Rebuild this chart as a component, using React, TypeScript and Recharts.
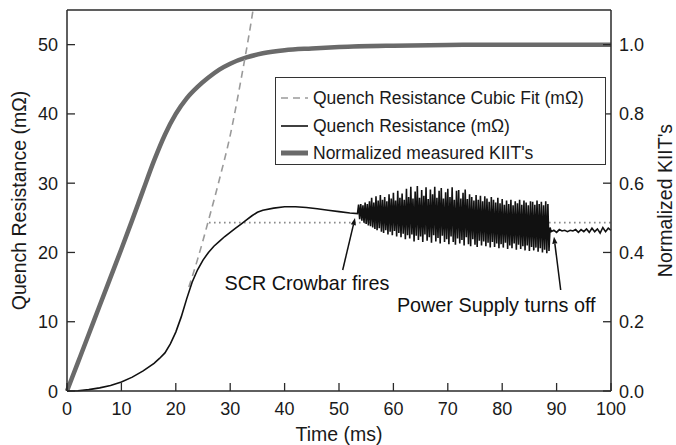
import React from 'react';
import { LineChart, Line, XAxis, YAxis, ReferenceDot, ReferenceLine, Legend } from 'recharts';

const FONT = '"Liberation Sans", Arial, Helvetica, sans-serif';
const AXIS = '#2a2a2a';

// ---- Data ----
// Normalized measured KIIT's (right axis)
const kiitTime = [0, 2, 4, 6, 8, 10, 12, 14, 16, 18, 20, 22, 24, 26, 28, 30, 33, 36, 40, 45, 50, 60, 70, 80, 90, 100];
const kiitValue = [0, 0.082, 0.164, 0.246, 0.328, 0.41, 0.494, 0.58, 0.665, 0.74, 0.8, 0.845, 0.878, 0.905, 0.928, 0.945, 0.963, 0.975, 0.984, 0.989, 0.993, 0.997, 0.999, 1.0, 1.0, 1.0];

// Quench Resistance Cubic Fit (mΩ)
const cubicTime = [22.4, 24, 26, 28, 30, 32, 34, 34.2];
const cubicValue = [15.0, 19.0, 24.6, 30.5, 36.9, 45.0, 54.0, 55.0];

// Plateau (dotted horizontal)
const plateauTime = [26.1, 100];
const plateauValue = [24.3, 24.3];

// Quench Resistance (mΩ) - smooth part
const qTime = [0, 2, 4, 6, 8, 10, 12, 14, 16, 17, 18, 19, 20, 21, 22, 23, 24, 25, 26, 27, 28, 29, 30, 31, 32, 33, 34, 35, 36, 38, 40, 42, 44, 46, 48, 50, 52, 53.4];
const qValue = [0, 0.03, 0.2, 0.45, 0.8, 1.3, 2.0, 2.9, 4.0, 4.7, 5.5, 6.8, 8.5, 10.7, 13.3, 15.7, 17.5, 18.9, 20.0, 20.9, 21.6, 22.3, 22.9, 23.5, 24.1, 24.7, 25.3, 25.8, 26.1, 26.4, 26.6, 26.6, 26.5, 26.3, 26.1, 25.9, 25.7, 25.6];

// Oscillating part, sampled every 0.2 ms starting at 53.6 ms
const NOISE_T0 = 53.6;
const NOISE_DT = 0.2;
const noiseValue = [
  26.9, 24.8, 27.0, 24.6, 26.8, 24.3, 27.2, 24.1, 27.0, 23.9,
  27.4, 23.8, 27.9, 23.6, 27.2, 23.4, 28.1, 23.2, 27.5, 23.5,
  28.3, 23.0, 27.6, 22.8, 28.0, 23.2, 27.4, 22.6, 28.4, 23.0,
  27.8, 22.5, 28.6, 23.1, 27.5, 22.3, 28.9, 22.8, 27.9, 22.2,
  28.5, 22.7, 27.6, 21.9, 29.2, 22.5, 28.0, 22.0, 29.5, 22.6,
  27.8, 21.6, 28.8, 22.4, 29.6, 21.8, 27.9, 22.3, 29.0, 21.5,
  28.2, 22.6, 29.4, 21.7, 27.7, 22.2, 29.1, 21.4, 28.4, 22.5,
  29.5, 21.6, 27.9, 22.1, 28.9, 21.3, 29.3, 22.4, 27.8, 21.5,
  28.7, 21.9, 29.2, 21.2, 28.0, 22.3, 29.4, 21.5, 27.6, 21.1,
  28.9, 22.0, 29.0, 21.3, 27.8, 21.8, 28.6, 21.0, 29.1, 22.2,
  27.7, 21.2, 28.4, 20.9, 28.0, 21.9, 27.5, 21.1, 28.3, 20.8,
  27.6, 21.7, 28.2, 21.0, 27.4, 21.6, 28.1, 20.9, 27.8, 21.4,
  27.3, 20.7, 28.0, 21.5, 27.6, 20.8, 27.2, 21.3, 27.9, 20.6,
  27.1, 21.2, 27.7, 20.7, 26.9, 21.4, 27.5, 20.5, 27.0, 21.0,
  27.6, 20.6, 26.8, 21.3, 27.4, 20.4, 27.1, 21.1, 27.6, 20.5,
  26.9, 20.9, 27.5, 20.3, 27.2, 21.0, 26.8, 20.2, 27.4, 20.8,
  27.3, 20.3, 26.9, 20.7, 27.5, 20.1, 27.0, 20.6, 27.3, 20.0,
  26.8, 20.4, 27.4, 19.9, 27.0, 20.2, 23.6,
];

// After the power supply turns off, sampled every 0.5 ms starting at 89 ms
const TAIL_T0 = 89.0;
const TAIL_DT = 0.5;
const tailValue = [23.0, 23.2, 22.9, 23.3, 23.1, 23.2, 23.0, 23.2, 23.1, 23.3, 22.9, 23.3, 23.0, 23.4, 22.9, 23.5, 23.0, 23.4, 22.8, 23.6, 23.0, 23.5, 23.2];

// Axis ticks
const xTicks = [0, 10, 20, 30, 40, 50, 60, 70, 80, 90, 100];
const leftTicks = [0, 10, 20, 30, 40, 50];
const rightTicks = [0, 0.2, 0.4, 0.6, 0.8, 1.0];

// Legend
const legendNames = ['Quench Resistance Cubic Fit (mΩ)', 'Quench Resistance (mΩ)', "Normalized measured KIIT's"];

// Annotations
const annotationText = ['SCR Crowbar fires', 'Power Supply turns off'];
const annotationPos = [
  { x: 44.1, y: 15.6 },
  { x: 78.9, y: 12.4 },
];
const arrowFrom = [
  { x: 50.68, y: 17.47 },
  { x: 90.75, y: 14.58 },
];
const arrowTo = [
  { x: 52.94, y: 24.97 },
  { x: 89.52, y: 22.28 },
];

// ---- Build series ----
const kiitData = kiitTime.map((t, i) => ({ t, v: kiitValue[i] }));
const cubicData = cubicTime.map((t, i) => ({ t, v: cubicValue[i] }));
const plateauData = plateauTime.map((t, i) => ({ t, v: plateauValue[i] }));
const quenchData = [
  ...qTime.map((t, i) => ({ t, v: qValue[i] })),
  ...noiseValue.map((v, i) => ({ t: +(NOISE_T0 + i * NOISE_DT).toFixed(2), v })),
  ...tailValue.map((v, i) => ({ t: +(TAIL_T0 + i * TAIL_DT).toFixed(2), v })),
];

// ---- Styles ----
const STYLE = {
  cubic: { stroke: '#9a9a9a', strokeWidth: 1.6, dash: '7 5' as string | undefined },
  quench: { stroke: '#111111', strokeWidth: 1.6, dash: undefined as string | undefined },
  kiit: { stroke: '#6a6a6a', strokeWidth: 4.5, dash: undefined as string | undefined },
};
const legendStyles = [STYLE.cubic, STYLE.quench, STYLE.kiit];

// ---- Ticks ----
const tickText = { fontFamily: FONT, fontSize: 18, fill: '#1a1a1a' };

const BottomTick = (p: any) => {
  const { x, y, payload } = p;
  return (
    <g>
      <line x1={x} y1={y} x2={x} y2={y - 8} stroke={AXIS} strokeWidth={1.3} />
      <text x={x} y={y + 24} textAnchor="middle" {...tickText}>{payload.value}</text>
    </g>
  );
};
const TopTick = (p: any) => {
  const { x, y } = p;
  return <line x1={x} y1={y} x2={x} y2={y + 8} stroke={AXIS} strokeWidth={1.3} />;
};
const LeftTick = (p: any) => {
  const { x, y, payload } = p;
  return (
    <g>
      <line x1={x} y1={y} x2={x + 8} y2={y} stroke={AXIS} strokeWidth={1.3} />
      <text x={x - 9} y={y + 6.5} textAnchor="end" {...tickText}>{payload.value}</text>
    </g>
  );
};
const RightTick = (p: any) => {
  const { x, y, payload } = p;
  return (
    <g>
      <line x1={x} y1={y} x2={x - 8} y2={y} stroke={AXIS} strokeWidth={1.3} />
      <text x={x + 8} y={y + 6.5} textAnchor="start" {...tickText}>{Number(payload.value).toFixed(1)}</text>
    </g>
  );
};

const titleStyle = { fontFamily: FONT, fontSize: 19.5, fill: '#1a1a1a' };

const XTitle = (p: any) => {
  const vb = p.viewBox;
  const x = vb.x + vb.width / 2;
  const y = vb.y + 50;
  return <text x={x} y={y} textAnchor="middle" {...titleStyle}>Time (ms)</text>;
};
const LeftTitle = (p: any) => {
  const vb = p.viewBox;
  const x = vb.x + vb.width - 41;
  const y = vb.y + vb.height / 2;
  return (
    <text x={x} y={y} textAnchor="middle" transform={`rotate(-90 ${x} ${y})`} {...titleStyle}>
      Quench Resistance (mΩ)
    </text>
  );
};
const RightTitle = (p: any) => {
  const vb = p.viewBox;
  const x = vb.x + 61;
  const y = vb.y + vb.height / 2;
  return (
    <text x={x} y={y} textAnchor="middle" transform={`rotate(-90 ${x} ${y})`} {...titleStyle}>
      Normalized KIIT's
    </text>
  );
};

const ArrowShape = (p: any) => {
  const { x1, y1, x2, y2 } = p;
  if ([x1, y1, x2, y2].some((v) => typeof v !== 'number' || isNaN(v))) return null;
  const ang = Math.atan2(y2 - y1, x2 - x1);
  const len = 7;
  const half = 2.6;
  const bx = x2 - len * Math.cos(ang);
  const by = y2 - len * Math.sin(ang);
  const px = -Math.sin(ang) * half;
  const py = Math.cos(ang) * half;
  return (
    <g>
      <line x1={x1} y1={y1} x2={bx} y2={by} stroke="#111" strokeWidth={1.5} />
      <polygon points={`${x2},${y2} ${bx + px},${by + py} ${bx - px},${by - py}`} fill="#111" />
    </g>
  );
};

const LegendBox = () => {
  const rowY = [20, 48, 75];
  return (
    <div style={{ width: 331, height: 88, border: '1.3px solid #333', boxSizing: 'border-box', background: '#fff' }}>
      <svg width={329} height={86} style={{ display: 'block' }}>
        {legendNames.map((name, i) => {
          const s = legendStyles[i];
          return (
            <g key={name}>
              <line x1={5} x2={32} y1={rowY[i]} y2={rowY[i]} stroke={s.stroke} strokeWidth={s.strokeWidth === 4.5 ? 5 : s.strokeWidth} strokeDasharray={s.dash} />
              <text x={37} y={rowY[i] + 6.3} fontFamily={FONT} fontSize={17.5} fill="#1a1a1a">{name}</text>
            </g>
          );
        })}
      </svg>
    </div>
  );
};

export default function App() {
  return (
    <div style={{ position: 'absolute', left: 0, top: 0, width: 676, height: 445, background: '#fff' }}>
      <LineChart width={676} height={445} margin={{ top: 9, right: 64, bottom: 53, left: 66 }}>
        <XAxis
          xAxisId="b"
          dataKey="t"
          type="number"
          domain={[0, 100]}
          ticks={xTicks}
          interval={0}
          height={1}
          tickSize={0}
          tickMargin={0}
          tickLine={false}
          tick={BottomTick}
          axisLine={{ stroke: AXIS, strokeWidth: 1.5 }}
          label={{ content: XTitle }}
        />
        <XAxis
          xAxisId="top"
          orientation="top"
          dataKey="t"
          type="number"
          domain={[0, 100]}
          ticks={xTicks}
          interval={0}
          height={1}
          tickSize={0}
          tickMargin={0}
          tickLine={false}
          tick={TopTick}
          axisLine={{ stroke: AXIS, strokeWidth: 1.5 }}
        />
        <YAxis
          yAxisId="left"
          type="number"
          domain={[0, 55]}
          ticks={leftTicks}
          interval={0}
          width={1}
          tickSize={0}
          tickMargin={0}
          tickLine={false}
          tick={LeftTick}
          axisLine={{ stroke: AXIS, strokeWidth: 1.5 }}
          label={{ content: LeftTitle }}
        />
        <YAxis
          yAxisId="right"
          orientation="right"
          type="number"
          domain={[0, 1.1]}
          ticks={rightTicks}
          interval={0}
          width={1}
          tickSize={0}
          tickMargin={0}
          tickLine={false}
          tick={RightTick}
          axisLine={{ stroke: AXIS, strokeWidth: 1.5 }}
          label={{ content: RightTitle }}
        />
        <Legend
          layout="vertical"
          align="center"
          verticalAlign="middle"
          content={LegendBox}
          wrapperStyle={{ position: 'absolute', left: 275, top: 77, width: 331, height: 88 }}
        />
        <Line
          xAxisId="b"
          yAxisId="right"
          data={kiitData}
          dataKey="v"
          name={legendNames[2]}
          stroke={STYLE.kiit.stroke}
          strokeWidth={STYLE.kiit.strokeWidth}
          dot={false}
          activeDot={false}
          isAnimationActive={false}
          type="monotone"
        />
        <Line
          xAxisId="b"
          yAxisId="left"
          data={plateauData}
          dataKey="v"
          legendType="none"
          stroke="#8a8a8a"
          strokeWidth={1.6}
          strokeDasharray="1.6 3.4"
          dot={false}
          activeDot={false}
          isAnimationActive={false}
        />
        <Line
          xAxisId="b"
          yAxisId="left"
          data={cubicData}
          dataKey="v"
          name={legendNames[0]}
          stroke={STYLE.cubic.stroke}
          strokeWidth={STYLE.cubic.strokeWidth}
          strokeDasharray={STYLE.cubic.dash}
          dot={false}
          activeDot={false}
          isAnimationActive={false}
          type="monotone"
        />
        <Line
          xAxisId="b"
          yAxisId="left"
          data={quenchData}
          dataKey="v"
          name={legendNames[1]}
          stroke={STYLE.quench.stroke}
          strokeWidth={STYLE.quench.strokeWidth}
          dot={false}
          activeDot={false}
          isAnimationActive={false}
          type="linear"
        />
        {annotationText.map((txt, i) => (
          <ReferenceDot
            key={txt}
            xAxisId="b"
            yAxisId="left"
            x={annotationPos[i].x}
            y={annotationPos[i].y}
            r={0}
            fill="none"
            stroke="none"
            label={{ value: txt, position: 'center', fontSize: 19.8, fill: '#111', fontFamily: FONT }}
          />
        ))}
        {arrowFrom.map((a, i) => (
          <ReferenceLine
            key={'arrow' + i}
            xAxisId="b"
            yAxisId="left"
            segment={[a, arrowTo[i]]}
            shape={ArrowShape}
          />
        ))}
      </LineChart>
    </div>
  );
}
